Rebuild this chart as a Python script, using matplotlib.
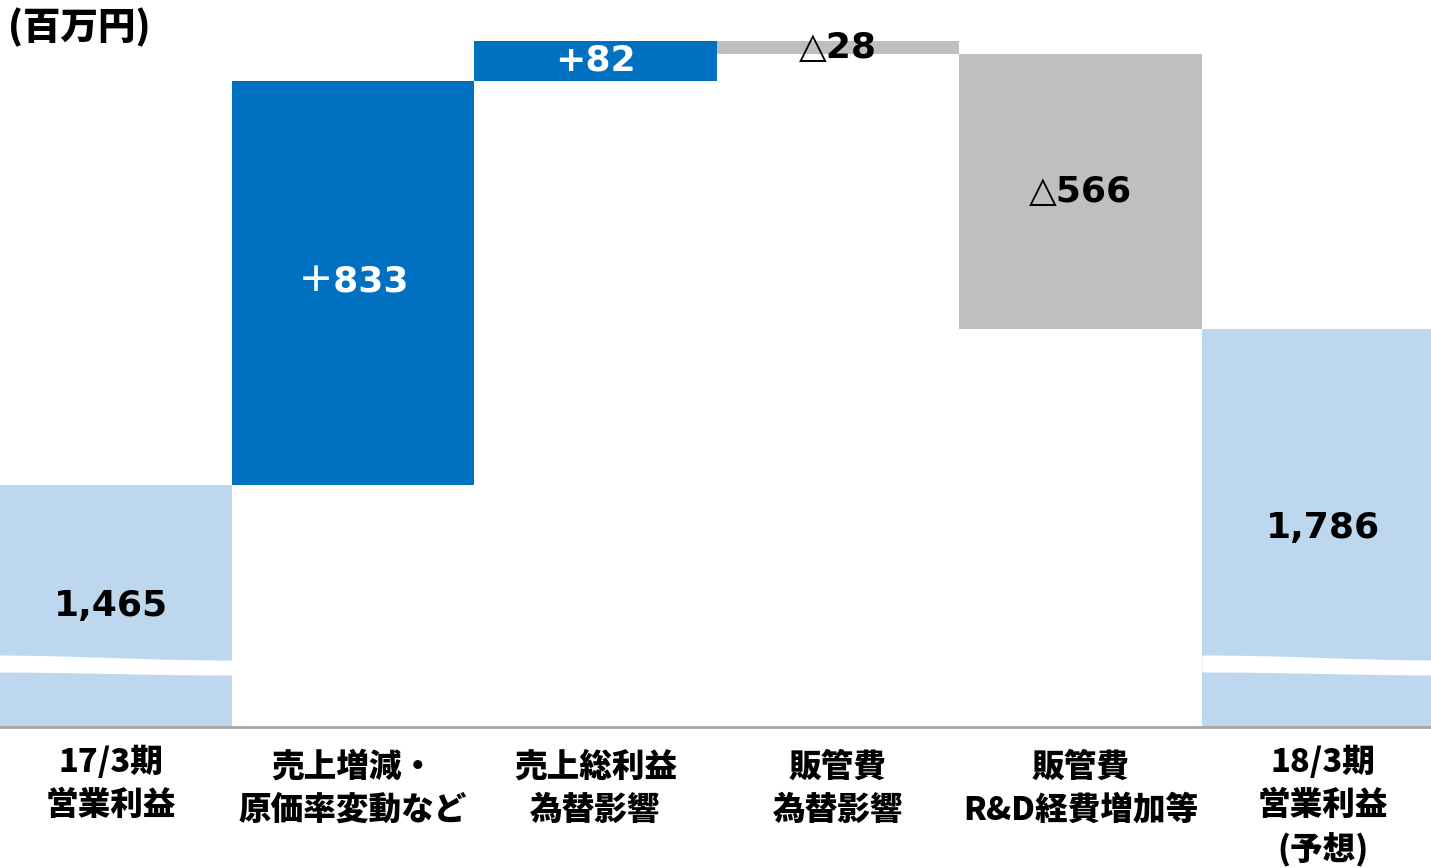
import numpy as np
import matplotlib.pyplot as plt
from matplotlib.transforms import blended_transform_factory

plt.rcParams['font.family'] = ['Noto Sans CJK JP', 'DejaVu Sans']

# data
categories = ['17/3期\n営業利益', '売上増減・\n原価率変動など', '売上総利益\n為替影響',
              '販管費\n為替影響', '販管費\nR&D経費増加等', '18/3期\n営業利益\n(予想)']
values = [1465, 833, 82, -28, -566, 1786]
is_total = [True, False, False, False, False, True]
value_labels = ['1,465', '＋833', '+82', '△28', '△566', '1,786']

c_total = '#BDD7EE'
c_up = '#0070C0'
c_down = '#BFBFBF'

fig = plt.figure(figsize=(14.31, 8.68), dpi=100)
ax = fig.add_axes([0, 1 - 727 / 868, 1, 727 / 868])

# waterfall bottoms
bottoms, heights, colors = [], [], []
run = 0
for v, t in zip(values, is_total):
    if t:
        bottoms.append(0)
        heights.append(v)
        colors.append(c_total)
        run = v
    else:
        if v >= 0:
            bottoms.append(run)
            colors.append(c_up)
        else:
            bottoms.append(run + v)
            colors.append(c_down)
        heights.append(abs(v))
        run += v

x = np.arange(len(values))
ax.bar(x, heights, bottom=bottoms, width=1.0, color=colors, zorder=2)

ylo, yhi = 967, 2464
ax.set_ylim(ylo, yhi)
ax.set_xlim(-0.456, 5.445)

# value labels at the middle of the visible part of each bar
for i in range(len(values)):
    lo = max(bottoms[i], ylo)
    hi = bottoms[i] + heights[i]
    mid = (lo + hi) / 2
    col = 'white' if colors[i] == c_up else 'black'
    ax.text(x[i], mid, value_labels[i], ha='center', va='center', fontsize=26,
            fontweight='bold', color=col, family=['DejaVu Sans', 'Noto Sans CJK JP'],
            zorder=5)

# axis break (white wave) on the total bars
tr = blended_transform_factory(ax.transData, ax.transAxes)
t = np.linspace(0, 1, 100)
top_px = 657.5 - 2.5 * np.cos(np.pi * t)
bot_px = 673.5 - 1.5 * np.cos(np.pi * t)
for i in range(len(values)):
    if is_total[i]:
        xs = x[i] - 0.5 + t
        ax.fill_between(xs, (727 - bot_px) / 727, (727 - top_px) / 727,
                        color='white', transform=tr, zorder=3, lw=0)

for s in ['top', 'right', 'left']:
    ax.spines[s].set_visible(False)
ax.spines['bottom'].set_color('#A6A6A6')
ax.spines['bottom'].set_linewidth(2)
ax.spines['bottom'].set_zorder(4)
ax.set_yticks([])
ax.set_xticks([])

# category labels
for i, lab in enumerate(categories):
    ytop = 745 if is_total[i] else 750
    fig.text((110.5 + 242.5 * i) / 1431, 1 - ytop / 868, lab, ha='center', va='top',
             fontsize=23.5, fontweight='heavy', linespacing=1.38)

fig.text(8 / 1431, 1 - 28 / 868, '(百万円)', ha='left', va='center',
         fontsize=27, fontweight='heavy')

fig.savefig('out.png', dpi=100)
